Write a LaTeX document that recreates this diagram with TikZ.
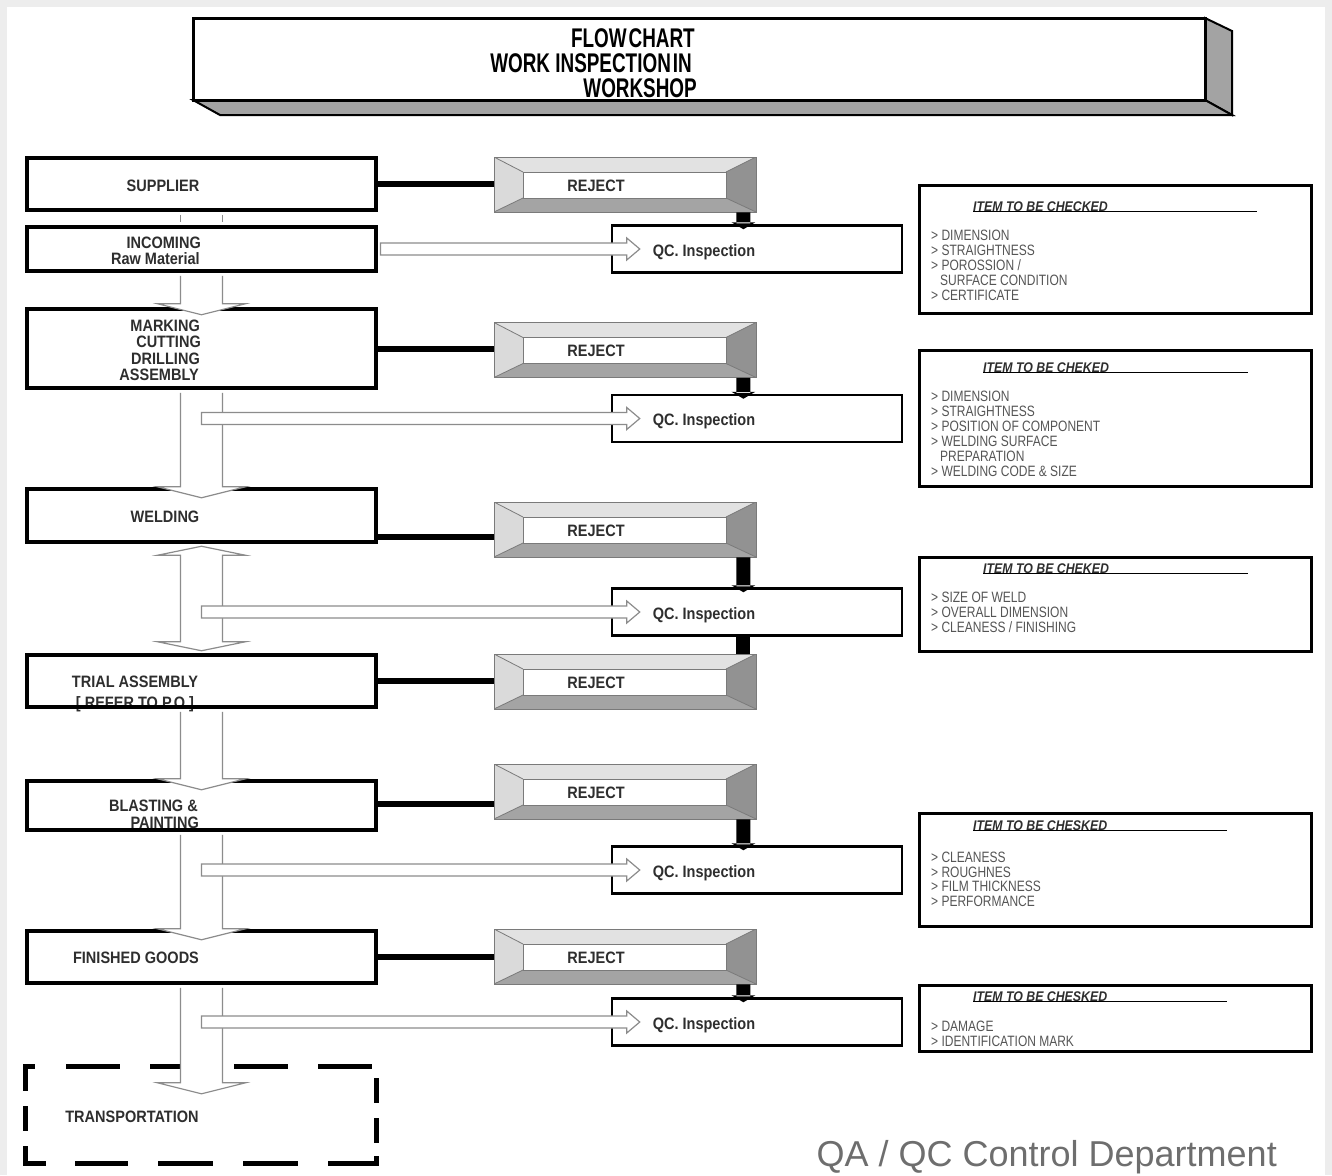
\documentclass[tikz,border=0pt]{standalone}
\usepackage{fontspec}
\setmainfont{Liberation Sans}
\newfontfamily\lblfont{Liberation Sans}[FakeStretch=0.88]
\newfontfamily\ttlfont{Liberation Sans}[FakeStretch=0.7]
\newfontfamily\itemfont{Liberation Sans}[FakeStretch=0.8]
\usetikzlibrary{calc}
\definecolor{txtgray}{HTML}{2E2E2E}
\definecolor{itemgray}{HTML}{555555}
\definecolor{edgegray}{HTML}{7A7A7A}
\definecolor{bevtop}{HTML}{E2E2E2}
\definecolor{bevleft}{HTML}{DADADA}
\definecolor{bevbot}{HTML}{A4A4A4}
\definecolor{bevright}{HTML}{929292}
\definecolor{sidegray}{HTML}{A3A3A3}
\definecolor{footgray}{HTML}{6E6E6E}
\definecolor{framegray}{HTML}{EDEDED}
\definecolor{arrowgray}{HTML}{8C8C8C}
\tikzset{
  stagebox/.style={draw=black, line width=4.5pt, minimum width=349pt, inner sep=0pt},
  qcbox/.style={draw=black, line width=2.5pt, minimum width=290pt, minimum height=47pt, inner sep=0pt},
  infobox/.style={draw=black, line width=3pt, minimum width=392pt, inner sep=0pt},
  rejline/.style={draw=black, line width=6pt},
  dashside/.style={draw=black, line width=5pt},
  blockline/.style={draw=arrowgray, line width=1.2pt, line join=miter},
  lbl/.style={font=\lblfont\bfseries\fontsize{16.5}{18}\selectfont, text=txtgray, inner sep=0pt},
  ttl/.style={font=\ttlfont\bfseries\fontsize{27}{30}\selectfont, text=black, inner sep=0pt},
  hdr/.style={font=\lblfont\bfseries\itshape\fontsize{14}{16}\selectfont, text=txtgray, inner sep=0pt, anchor=base west},
  itm/.style={font=\itemfont\fontsize{15}{16}\selectfont, text=itemgray, inner sep=0pt, anchor=base west},
  uline/.style={draw=black, line width=1.3pt},
  rejectbox/.style={minimum width=262pt, minimum height=55pt, inner sep=0pt, draw=edgegray, line width=0.8pt,
    path picture={
      \path (path picture bounding box.north west) coordinate (bNW)
            (path picture bounding box.north east) coordinate (bNE)
            (path picture bounding box.south east) coordinate (bSE)
            (path picture bounding box.south west) coordinate (bSW);
      \path ($(bNW)+(29,15)$) coordinate (iNW) ($(bNE)+(-30,15)$) coordinate (iNE)
            ($(bSE)+(-30,-14)$) coordinate (iSE) ($(bSW)+(29,-14)$) coordinate (iSW);
      \fill[bevtop] (bNW) -- (bNE) -- (iNE) -- (iNW) -- cycle;
      \fill[bevleft] (bNW) -- (iNW) -- (iSW) -- (bSW) -- cycle;
      \fill[bevbot] (bSW) -- (iSW) -- (iSE) -- (bSE) -- cycle;
      \fill[bevright] (bNE) -- (bSE) -- (iSE) -- (iNE) -- cycle;
      \draw[edgegray, line width=0.8pt, fill=white] (iNW) rectangle (iSE);
      \draw[edgegray, line width=0.8pt] (bNW) -- (iNW) (bNE) -- (iNE) (bSE) -- (iSE) (bSW) -- (iSW);
    }},
}
% vertical block arrow: from node #1 down to node #2, wings #3 px below #2.north
\newcommand\vdown[3]{%
  \path[fill=white] let \p1=(#1.south), \p2=(#2.north), \n3={\y2-(#3)*1pt} in
    (\x1-21pt,\y1-2.5pt) -- (\x1-21pt,\n3) -- (\x1-44pt,\n3) -- (\x1,\n3-11pt)
    -- (\x1+44pt,\n3) -- (\x1+21pt,\n3) -- (\x1+21pt,\y1-2.5pt) -- cycle;
  \draw[blockline] let \p1=(#1.south), \p2=(#2.north), \n3={\y2-(#3)*1pt} in
    (\x1-21pt,\y1-2.5pt) -- (\x1-21pt,\n3) -- (\x1-44pt,\n3) -- (\x1,\n3-11pt)
    -- (\x1+44pt,\n3) -- (\x1+21pt,\n3) -- (\x1+21pt,\y1-2.5pt);
}
\newcommand\vshaft[2]{%
  \path[fill=white] let \p1=(#1.south), \p2=(#2.north) in
    (\x1-21pt,\y1-2.5pt) rectangle (\x1+21pt,\y2+2.5pt);
  \draw[blockline] let \p1=(#1.south), \p2=(#2.north) in
    (\x1-21pt,\y1-2.5pt) -- (\x1-21pt,\y2+2.5pt) (\x1+21pt,\y1-2.5pt) -- (\x1+21pt,\y2+2.5pt);
}
\newcommand\vboth[2]{%
  \filldraw[blockline, fill=white] let \p1=(#1.south), \p2=(#2.north) in
    (\x1-21pt,\y1-11pt) -- (\x1-44pt,\y1-11pt) -- (\x1,\y1-2pt) -- (\x1+44pt,\y1-11pt) -- (\x1+21pt,\y1-11pt)
    -- (\x1+21pt,\y2+11pt) -- (\x1+44pt,\y2+11pt) -- (\x1,\y2+2pt) -- (\x1-44pt,\y2+11pt) -- (\x1-21pt,\y2+11pt) -- cycle;
}
% horizontal thin block arrow from coordinate #1 into qc node #2
\newcommand\harrow[2]{%
  \filldraw[blockline, fill=white] let \p1=(#1), \p2=(#2.west) in
    (\x1,\y2+6pt) -- (\x2+16pt,\y2+6pt) -- (\x2+16pt,\y2+11pt) -- (\x2+29pt,\y2) -- (\x2+16pt,\y2-11pt)
    -- (\x2+16pt,\y2-6pt) -- (\x1,\y2-6pt) -- cycle;
}
% black bar from reject #1 down to qc #2
\newcommand\rdown[2]{%
  \fill[black] let \p1=(#1.south east), \p2=(#2.north) in
    (\x1-20pt,\y1) rectangle (\x1-6pt,\y2+1pt)
    (\x1-25pt,\y2+2pt) -- (\x1-1pt,\y2+2pt) -- (\x1-13pt,\y2-5pt) -- cycle;
}
% black bar from qc #1 down to reject #2
\newcommand\rup[2]{%
  \fill[black] let \p1=(#2.north east), \p2=(#1.south) in
    (\x1-20pt,\y2) rectangle (\x1-6pt,\y1);
}
\begin{document}
\begin{tikzpicture}[x=1pt,y=-1pt]
\useasboundingbox (0,0) rectangle (1332,1175);
\fill[framegray] (0,0) rectangle (1332,1175);
\fill[white] (7,7) rectangle (1325,1175);

% ---- title 3D box
\coordinate (tNE) at (1205,18);
\coordinate (tSE) at (1205,100);
\coordinate (tSW) at (193,100);
\filldraw[fill=sidegray, draw=black, line width=2pt, line join=miter]
  (tNE) -- ++(27,13) -- ($(tSE)+(27,15)$) -- (tSE) -- cycle;
\filldraw[fill=sidegray, draw=black, line width=2pt, line join=miter]
  (tSW) -- (tSE) -- ($(tSE)+(27,15)$) -- ($(tSW)+(27,15)$) -- cycle;
\node[draw=black, fill=white, line width=3pt, minimum width=1012pt, minimum height=82pt, inner sep=0pt] (title) at (699,59) {};
\node[ttl, anchor=base east] (ttl1) at (695,47) {FLOW\hspace{2pt}CHART};
\node[ttl, anchor=base east] (ttl2) at (692,72) {WORK INSPECTION\hspace{2pt}IN};
\node[ttl, anchor=base east] (ttl3) at (697,97) {WORKSHOP};

% ---- stage boxes
\node[stagebox, minimum height=52pt] (sup) at (201.5,184) {};
\node[stagebox, minimum height=44pt] (inc) at (201.5,249) {};
\node[stagebox, minimum height=79pt] (mark) at (201.5,348.5) {};
\node[stagebox, minimum height=53pt] (weld) at (201.5,515.5) {};
\node[lbl, anchor=base] (trialt2) at (135,708) {[ REFER TO P.O ]};
\node[stagebox, minimum height=52pt] (trial) at (201.5,681) {};
\node[stagebox, minimum height=49pt] (blast) at (201.5,805.5) {};
\node[stagebox, minimum height=52pt] (fin) at (201.5,957) {};
% transportation: dashed outline drawn side by side
\node[minimum width=350pt, minimum height=96pt, inner sep=0pt] (trans) at (201,1115) {};
\draw[dashside, dash pattern=on 12pt off 31pt on 54pt off 30pt on 54pt off 30pt on 54pt off 30pt on 54pt off 30pt]
  ([xshift=-2.5pt]trans.north west) -- ([xshift=2.5pt]trans.north east);
\draw[dashside, dash pattern=on 23pt off 29pt on 53pt off 30pt on 55pt off 30pt on 55pt off 30pt on 60pt off 10pt]
  ([xshift=-2.5pt]trans.south west) -- ([xshift=2.5pt]trans.south east);
\draw[dashside, dash pattern=on 27pt off 15pt on 25pt off 15pt on 40pt off 10pt]
  ([yshift=2.5pt]trans.north west) -- ([yshift=-2.5pt]trans.south west);
\draw[dashside, dash pattern=on 0pt off 14pt on 25pt off 15pt on 25pt off 13pt on 40pt off 10pt]
  ([yshift=2.5pt]trans.north east) -- ([yshift=-2.5pt]trans.south east);

% ---- reject boxes
\node[rejectbox] (r1) at (625,184.5) {};
\node[rejectbox] (r2) at (625,350) {};
\node[rejectbox] (r3) at (625,529.5) {};
\node[rejectbox] (r4) at (625,681.5) {};
\node[rejectbox] (r5) at (625,791.5) {};
\node[rejectbox] (r6) at (625,956.5) {};

% ---- QC boxes
\node[qcbox] (q1) at (757,249) {};
\node[qcbox] (q2) at (757,418.5) {};
\node[qcbox] (q3) at (757,612) {};
\node[qcbox] (q4) at (757,870) {};
\node[qcbox] (q5) at (757,1022) {};

% ---- stage to reject connectors
\draw[rejline] (sup.east) -- (sup.east -| r1.west);
\draw[rejline] (mark.east) -- (mark.east -| r2.west);
\coordinate (wc) at ([yshift=7pt]weld.south east);
\draw[rejline] (wc) -- (wc -| r3.west);
\draw[rejline] (trial.east) -- (trial.east -| r4.west);
\coordinate (bc) at ([yshift=2pt]blast.east);
\draw[rejline] (bc) -- (bc -| r5.west);
\draw[rejline] (fin.east) -- (fin.east -| r6.west);

% ---- reject to QC bars
\rdown{r1}{q1}
\rdown{r2}{q2}
\rdown{r3}{q3}
\rup{q3}{r4}
\rdown{r5}{q4}
\rdown{r6}{q5}

% ---- vertical block arrows
\vshaft{sup}{inc}
\vdown{inc}{mark}{-3}
\vdown{mark}{weld}{0}
\vboth{weld}{trial}
\vdown{trial}{blast}{0}
\vdown{blast}{fin}{0}
\vdown{fin}{trans}{16}

% ---- horizontal arrows to QC
\coordinate (ia) at ([xshift=2.2pt]inc.east);
\harrow{ia}{q1}
\harrow{mark.south}{q2}
\harrow{weld.south}{q3}
\harrow{blast.south}{q4}
\harrow{fin.south}{q5}

% ---- stage texts
\node[lbl, anchor=base] (supt) at (163,191) {SUPPLIER};
\node[lbl, anchor=base east] (inct1) at (201,248) {INCOMING};
\node[lbl, anchor=base east] (inct2) at (200,264) {Raw Material};
\node[lbl, anchor=base east] (markt1) at (200,331) {MARKING};
\node[lbl, anchor=base east] (markt2) at (201,347) {CUTTING};
\node[lbl, anchor=base east] (markt3) at (200,364) {DRILLING};
\node[lbl, anchor=base east] (markt4) at (199,380) {ASSEMBLY};
\node[lbl, anchor=base] (weldt) at (165,522) {WELDING};
\node[lbl, anchor=base] (trialt1) at (135,687) {TRIAL ASSEMBLY};
\node[lbl, anchor=base east] (blastt1) at (198,811) {BLASTING \&};
\node[lbl, anchor=base east] (blastt2) at (199,828) {PAINTING};
\node[lbl, anchor=base] (fint) at (136,963) {FINISHED GOODS};
\node[lbl, anchor=base] (transt) at (132,1122) {TRANSPORTATION};

% ---- reject and QC texts
\foreach \r in {r1,r2,r3,r4,r5,r6}
  \node[lbl, anchor=base] (\r t) at ($(\r)+(-29,6.5)$) {REJECT};
\foreach \q in {q1,q2,q3,q4,q5}
  \node[lbl, anchor=base] (\q t) at ($(\q)+(-53,7)$) {QC. Inspection};

% ---- info boxes
\node[infobox, minimum height=128pt] (i1) at (1115.5,249.5) {};
\node[infobox, minimum height=136pt] (i2) at (1115.5,418.5) {};
\node[infobox, minimum height=94pt] (i3) at (1115.5,604.5) {};
\node[infobox, minimum height=113pt] (i4) at (1115.5,870) {};
\node[infobox, minimum height=66pt] (i5) at (1115.5,1018.5) {};

\node[hdr] (h1) at (973,211) {ITEM TO BE CHECKED};
\draw[uline] ([yshift=-0.5pt]h1.base west) -- ++(284,0);
\node[hdr] (h2) at (983,372) {ITEM TO BE CHEKED};
\draw[uline] ([yshift=-0.5pt]h2.base west) -- ++(265,0);
\node[hdr] (h3) at (983,573) {ITEM TO BE CHEKED};
\draw[uline] ([yshift=-0.5pt]h3.base west) -- ++(265,0);
\node[hdr] (h4) at (973,830) {ITEM TO BE CHESKED};
\draw[uline] ([yshift=-0.5pt]h4.base west) -- ++(254,0);
\node[hdr] (h5) at (973,1001) {ITEM TO BE CHESKED};
\draw[uline] ([yshift=-0.5pt]h5.base west) -- ++(254,0);

\foreach \dx/\t [count=\i] in {0/{> DIMENSION}, 0/{> STRAIGHTNESS}, 0/{> POROSSION /}, 9/{SURFACE CONDITION}, 0/{> CERTIFICATE}}
  \node[itm] (a\i) at (931+\dx,240.5+15*\i-15) {\t};
\foreach \dx/\t [count=\i] in {0/{> DIMENSION}, 0/{> STRAIGHTNESS}, 0/{> POSITION OF COMPONENT}, 0/{> WELDING SURFACE}, 9/{PREPARATION}, 0/{> WELDING CODE \& SIZE}}
  \node[itm] (b\i) at (931+\dx,401.5+15*\i-15) {\t};
\foreach \t [count=\i] in {{> SIZE OF WELD}, {> OVERALL DIMENSION}, {> CLEANESS / FINISHING}}
  \node[itm] (c\i) at (931,602.5+15*\i-15) {\t};
\foreach \t [count=\i] in {{> CLEANESS}, {> ROUGHNES}, {> FILM THICKNESS}, {> PERFORMANCE}}
  \node[itm] (d\i) at (931,862.5+14.7*\i-14.7) {\t};
\foreach \t [count=\i] in {{> DAMAGE}, {> IDENTIFICATION MARK}}
  \node[itm] (e\i) at (931,1031.5+15*\i-15) {\t};

% ---- footer
\node[font=\fontsize{36}{40}\selectfont, text=footgray, anchor=base east, inner sep=0pt] (foot) at (1277,1166) {QA / QC Control Department};
\end{tikzpicture}
\end{document}
